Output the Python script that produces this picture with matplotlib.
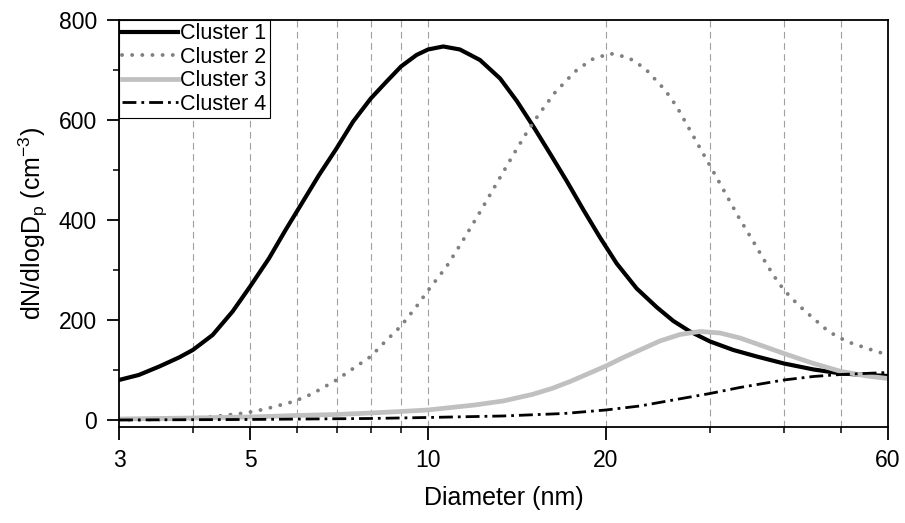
import matplotlib
matplotlib.use("Agg")
import matplotlib.pyplot as plt
from matplotlib.ticker import FixedLocator, NullFormatter

plt.rcParams["font.family"] = ["Liberation Sans", "DejaVu Sans"]
plt.rcParams["mathtext.default"] = "regular"

# values (diameter in nm, dN/dlogDp in cm^-3)
d1 = [3, 3.24, 3.51, 3.79, 4, 4.32, 4.67, 5, 5.38, 5.74, 6.07, 6.54, 7, 7.47, 8,
      8.51, 9, 9.56, 10, 10.61, 11.32, 12.24, 13.24, 14.13, 15.07, 16.08, 17.16,
      18.32, 19.54, 20.85, 22.54, 24.4, 26, 27.74, 30, 32.84, 35.97, 40, 44.9,
      50, 55.2, 60]
v1 = [80, 90, 107, 125, 140, 170, 217, 267, 323, 380, 427, 490, 543, 597, 643,
      677, 707, 730, 741, 747, 741, 720, 683, 638, 587, 533, 478,
      420, 365, 313, 263, 225, 198, 177, 157, 140, 127, 113, 101,
      93, 90, 88]

d2 = [3, 3.5, 4, 4.43, 4.91, 5.31, 5.93, 6.3, 6.54, 7, 7.47, 8, 8.4, 9, 9.56,
      10, 10.75, 11.4, 12.16, 13.06, 13.93, 14.69, 15.37, 16.4, 17.73, 18.92,
      20.32, 21.81, 23.29, 25.17, 26.34, 28.5, 31.18, 33.48, 35.5, 36.9, 38.37,
      40, 42.3, 44.9, 47.6, 51.07, 56.7, 60]
v2 = [0, 1, 3, 8, 14, 22, 37, 50, 60, 80, 103, 127, 153, 188, 227,
      259, 307, 355, 410, 473, 530, 575, 610, 655, 697, 721,
      733, 725, 703, 660, 627, 555, 473, 407, 357, 323, 290,
      260, 230, 203, 177, 157, 139, 130]

d3 = [3, 4, 5, 6, 7, 8, 9, 10, 12, 13.4, 15, 16.2, 17.4, 18.7, 20, 21.4, 22.83,
      24.68, 26.69, 28.85, 31.18, 33.7, 36.44, 40, 44.9, 50, 55.2, 60]
v3 = [2, 4, 6, 9, 11, 14, 17, 20, 30, 38, 51, 63, 77, 93, 108, 125, 140,
      158, 171, 177, 174, 164, 150, 133, 113, 97, 88, 83]

d4 = [3, 5, 8, 10, 13.4, 17, 20, 22.83, 26, 30, 33.7, 40, 44.9, 50, 60]
v4 = [0, 1, 3, 5, 8, 13, 20, 28, 40, 53, 65, 80, 87, 91, 95]

labels = ["Cluster 1", "Cluster 2", "Cluster 3", "Cluster 4"]
major_x = [3, 5, 10, 20, 60]
minor_x = [4, 6, 7, 8, 9, 30, 40, 50]
grid_x = [4, 5, 6, 7, 8, 9, 10, 20, 30, 40, 50]

fig = plt.figure(figsize=(9.05, 5.23), dpi=100)
ax = fig.add_axes([0.1315, 0.1836, 0.8497, 0.7782])

for g in grid_x:
    ax.axvline(g, color="#a0a0a0", lw=0.8, ls=(0, (6, 4)), zorder=0)

ax.plot(d1, v1, color="black", lw=3.0, label=labels[0])
ax.plot(d2, v2, color="#808080", lw=2.8, ls=(0, (0.01, 2.6)),
        dash_capstyle="round", label=labels[1])
ax.plot(d3, v3, color="#c0c0c0", lw=3.4, label=labels[2])
ax.plot(d4, v4, color="black", lw=2.0, ls=(0, (5, 1.8, 1, 1.8)), label=labels[3])

ax.set_xscale("log")
ax.set_xlim(3, 60)
ax.set_ylim(-14, 800)
ax.xaxis.set_major_locator(FixedLocator(major_x))
ax.xaxis.set_minor_locator(FixedLocator(minor_x))
ax.xaxis.set_minor_formatter(NullFormatter())
ax.set_xticklabels([str(v) for v in major_x])
ax.set_yticks([0, 200, 400, 600, 800])
ax.set_yticks([100, 300, 500, 700], minor=True)

ax.tick_params(which="major", direction="out", length=9, width=1.3,
               labelsize=16.5, pad=7)
ax.tick_params(which="minor", direction="out", length=4.5, width=1.1)
for s in ax.spines.values():
    s.set_linewidth(1.3)

ax.set_xlabel("Diameter (nm)", fontsize=18, labelpad=10)
ax.set_ylabel("dN/dlogD$_p$ (cm$^{-3}$)", fontsize=18, labelpad=6)

leg = ax.legend(loc="upper left", borderaxespad=0, fontsize=15.5,
                handlelength=2.6, handletextpad=0.1, labelspacing=0.12,
                borderpad=0.15, fancybox=False, framealpha=1, edgecolor="black")
leg.get_frame().set_linewidth(0.8)

fig.savefig("out.png", dpi=100)
